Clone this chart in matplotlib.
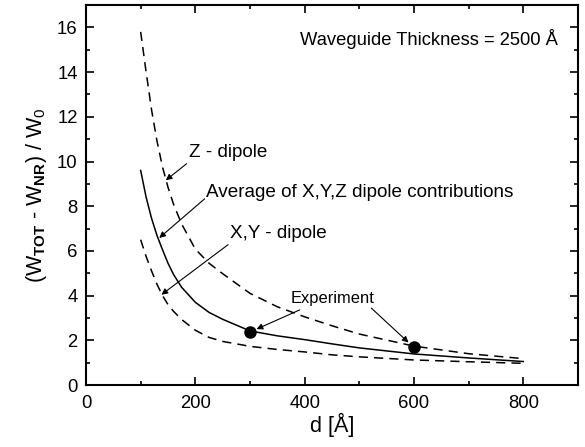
import matplotlib
matplotlib.use("Agg")
import matplotlib.pyplot as plt
from matplotlib.ticker import MultipleLocator

plt.rcParams["font.family"] = ["Liberation Sans", "DejaVu Sans"]
plt.rcParams["mathtext.fontset"] = "custom"
plt.rcParams["mathtext.rm"] = "Liberation Sans"
plt.rcParams["mathtext.bf"] = "Liberation Sans:bold"

# distance from interface [A]
d = [100, 110, 120, 130, 140, 150, 160, 175, 200, 225, 250, 300, 350, 400, 450, 500, 600, 700, 800]
z_dipole = [15.8, 14.0, 12.3, 10.9, 9.75, 8.85, 8.1, 7.2, 6.08, 5.45, 4.98, 4.1, 3.5,
            3.05, 2.65, 2.28, 1.74, 1.4, 1.18]
average = [9.6, 8.4, 7.45, 6.68, 6.05, 5.45, 4.95, 4.37, 3.7, 3.25, 2.94, 2.42, 2.2,
           2.03, 1.84, 1.66, 1.39, 1.21, 1.05]
xy_dipole = [6.5, 5.75, 5.1, 4.5, 4.0, 3.6, 3.3, 2.93, 2.45, 2.13, 1.95, 1.73, 1.59,
             1.48, 1.35, 1.26, 1.12, 1.04, 0.97]

exp_d = [300, 600]
exp_val = [2.35, 1.72]

fig = plt.figure(figsize=(5.85, 4.47), dpi=100)
ax = fig.add_axes([0.147, 0.1387, 0.841, 0.85])

ax.plot(d, z_dipole, "k--", lw=1.1, dashes=(6, 4))
ax.plot(d, average, "k-", lw=1.1)
ax.plot(d, xy_dipole, "k--", lw=1.1, dashes=(6, 4))
ax.plot(exp_d, exp_val, "ko", ms=8)

ax.set_xlim(0, 900)
ax.set_ylim(0, 17)
ax.xaxis.set_major_locator(MultipleLocator(200))
ax.xaxis.set_minor_locator(MultipleLocator(100))
ax.yaxis.set_major_locator(MultipleLocator(2))
ax.yaxis.set_minor_locator(MultipleLocator(1))
ax.tick_params(which="both", direction="in", top=True, right=True, width=1.2)
ax.tick_params(which="major", length=6, labelsize=13.3)
ax.tick_params(axis="x", which="major", pad=7)
ax.tick_params(axis="y", which="major", pad=6)
ax.tick_params(which="minor", length=3)
for s in ax.spines.values():
    s.set_linewidth(1.5)

ax.set_xlabel("d [Å]", fontsize=15.5, labelpad=1)
ax.set_ylabel(r"(W$_{\mathbf{TOT}}$ - W$_{\mathbf{NR}}$) / W$_{\mathregular{0}}$",
              fontsize=15.5, labelpad=6)

arrow = dict(arrowstyle="-|>", color="k", lw=0.8, mutation_scale=9,
             shrinkA=0, shrinkB=0)
ax.text(188, 10.4, "Z - dipole", fontsize=13.6, va="center", ha="left")
ax.annotate("", xy=(146, 9.16), xytext=(184, 9.9), arrowprops=arrow)
ax.text(219, 8.62, "Average of X,Y,Z dipole contributions", fontsize=13.6,
        va="center", ha="left")
ax.annotate("", xy=(134, 6.58), xytext=(217, 8.33), arrowprops=arrow)
ax.text(264, 6.8, "X,Y - dipole", fontsize=13.6, va="center", ha="left")
ax.annotate("", xy=(138, 4.04), xytext=(260, 6.28), arrowprops=arrow)
ax.text(374, 3.89, "Experiment", fontsize=11.9, va="center", ha="left")
ax.annotate("", xy=(312, 2.5), xytext=(391, 3.36), arrowprops=arrow)
ax.annotate("", xy=(590, 1.9), xytext=(522, 3.44), arrowprops=arrow)

ax.text(392, 15.47, "Waveguide Thickness = 2500 Å", fontsize=13.2, va="center", ha="left")

fig.savefig("out.png", dpi=100)
